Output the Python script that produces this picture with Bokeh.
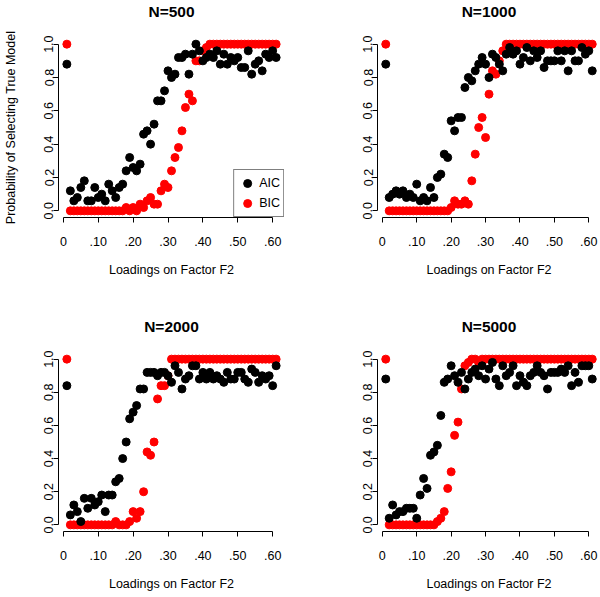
from bokeh.plotting import figure
from bokeh.models import Range1d, FixedTicker, Legend, LegendItem, Title
from bokeh.layouts import column, row
from bokeh.embed import file_html
from bokeh.resources import INLINE

# ---------------- data ----------------
loadings = [0.01, 0.02, 0.03, 0.04, 0.05, 0.06, 0.07, 0.08, 0.09, 0.10,
            0.11, 0.12, 0.13, 0.14, 0.15, 0.16, 0.17, 0.18, 0.19, 0.20,
            0.21, 0.22, 0.23, 0.24, 0.25, 0.26, 0.27, 0.28, 0.29, 0.30,
            0.31, 0.32, 0.33, 0.34, 0.35, 0.36, 0.37, 0.38, 0.39, 0.40,
            0.41, 0.42, 0.43, 0.44, 0.45, 0.46, 0.47, 0.48, 0.49, 0.50,
            0.51, 0.52, 0.53, 0.54, 0.55, 0.56, 0.57, 0.58, 0.59, 0.60,
            0.61]

x_ticks = [0, 0.1, 0.2, 0.3, 0.4, 0.5, 0.6]
x_tick_labels = ["0", ".10", ".20", ".30", ".40", ".50", ".60"]
y_ticks = [0, 0.2, 0.4, 0.6, 0.8, 1.0]
y_tick_labels = ["0.0", "0.2", "0.4", "0.6", "0.8", "1.0"]

titles = ["N=500", "N=1000", "N=2000", "N=5000"]
series_names = ["AIC", "BIC"]
x_label = "Loadings on Factor F2"
y_label = "Probability of Selecting True Model"

aic_500 = [0.88, 0.12, 0.06, 0.08, 0.14, 0.18, 0.06, 0.06, 0.14, 0.08,
           0.10, 0.06, 0.16, 0.12, 0.08, 0.14, 0.16, 0.24, 0.32, 0.26,
           0.24, 0.28, 0.46, 0.48, 0.40, 0.52, 0.66, 0.66, 0.72, 0.84,
           0.80, 0.82, 0.92, 0.92, 0.94, 0.82, 0.94, 1.00, 0.96, 0.90,
           0.92, 0.94, 0.92, 0.96, 0.88, 0.94, 0.88, 0.92, 0.90, 0.92,
           0.86, 0.86, 0.96, 0.82, 0.88, 0.90, 0.84, 0.94, 0.92, 0.96,
           0.92]
bic_500 = [1.00, 0.00, 0.00, 0.00, 0.00, 0.00, 0.00, 0.00, 0.00, 0.00,
           0.00, 0.00, 0.00, 0.00, 0.00, 0.00, 0.00, 0.02, 0.00, 0.02,
           0.00, 0.04, 0.02, 0.06, 0.08, 0.04, 0.04, 0.12, 0.16, 0.14,
           0.24, 0.32, 0.38, 0.48, 0.62, 0.70, 0.66, 0.90, 0.90, 0.96,
           0.98, 1.00, 1.00, 1.00, 1.00, 1.00, 1.00, 1.00, 1.00, 1.00,
           1.00, 1.00, 1.00, 1.00, 1.00, 1.00, 1.00, 1.00, 1.00, 1.00,
           1.00]

aic_1000 = [0.88, 0.08, 0.10, 0.12, 0.10, 0.12, 0.08, 0.10, 0.08, 0.16,
            0.06, 0.08, 0.06, 0.14, 0.08, 0.20, 0.22, 0.34, 0.32, 0.54,
            0.48, 0.56, 0.56, 0.74, 0.80, 0.78, 0.84, 0.88, 0.92, 0.88,
            0.80, 0.94, 0.92, 0.88, 0.84, 0.94, 0.98, 0.94, 0.96, 0.88,
            0.92, 0.98, 0.90, 0.96, 0.92, 0.96, 0.86, 0.90, 0.90, 0.90,
            0.96, 0.90, 0.96, 0.84, 0.96, 0.90, 0.90, 0.98, 0.94, 0.96,
            0.84]
bic_1000 = [1.00, 0.00, 0.00, 0.00, 0.00, 0.00, 0.00, 0.00, 0.00, 0.00,
            0.00, 0.00, 0.00, 0.00, 0.00, 0.00, 0.00, 0.00, 0.00, 0.02,
            0.06, 0.04, 0.04, 0.06, 0.04, 0.18, 0.34, 0.50, 0.56, 0.44,
            0.70, 0.84, 0.82, 0.90, 0.96, 1.00, 1.00, 1.00, 1.00, 1.00,
            1.00, 1.00, 1.00, 1.00, 1.00, 1.00, 1.00, 1.00, 1.00, 1.00,
            1.00, 1.00, 1.00, 1.00, 1.00, 1.00, 1.00, 1.00, 1.00, 1.00,
            1.00]

aic_2000 = [0.84, 0.06, 0.12, 0.08, 0.02, 0.16, 0.10, 0.16, 0.12, 0.14,
            0.18, 0.08, 0.18, 0.18, 0.26, 0.28, 0.40, 0.50, 0.64, 0.68,
            0.72, 0.82, 0.82, 0.92, 0.92, 0.92, 0.90, 0.92, 0.92, 0.90,
            0.86, 0.96, 0.92, 0.82, 0.88, 0.90, 0.96, 0.96, 0.88, 0.92,
            0.88, 0.92, 0.88, 0.90, 0.88, 0.86, 0.92, 0.88, 0.88, 0.92,
            0.92, 0.88, 0.86, 0.94, 0.92, 0.86, 0.90, 0.88, 0.90, 0.84,
            0.96]
bic_2000 = [1.00, 0.00, 0.00, 0.00, 0.00, 0.00, 0.00, 0.00, 0.00, 0.00,
            0.00, 0.00, 0.00, 0.00, 0.02, 0.00, 0.00, 0.00, 0.02, 0.08,
            0.04, 0.08, 0.20, 0.44, 0.42, 0.50, 0.76, 0.84, 0.84, 0.90,
            1.00, 1.00, 1.00, 1.00, 1.00, 1.00, 1.00, 1.00, 1.00, 1.00,
            1.00, 1.00, 1.00, 1.00, 1.00, 1.00, 1.00, 1.00, 1.00, 1.00,
            1.00, 1.00, 1.00, 1.00, 1.00, 1.00, 1.00, 1.00, 1.00, 1.00,
            1.00]

aic_5000 = [0.88, 0.04, 0.12, 0.06, 0.08, 0.08, 0.10, 0.10, 0.10, 0.04,
            0.18, 0.28, 0.22, 0.42, 0.44, 0.48, 0.66, 0.86, 0.88, 0.96,
            0.90, 0.86, 0.92, 0.82, 0.88, 0.92, 0.94, 0.90, 0.96, 0.88,
            0.94, 0.98, 0.88, 0.84, 0.96, 0.90, 0.92, 0.96, 0.84, 0.90,
            0.86, 0.84, 0.90, 0.92, 0.96, 0.92, 0.90, 0.82, 0.92, 0.92,
            0.92, 0.94, 0.92, 0.96, 0.84, 0.92, 0.86, 0.96, 0.96, 0.96,
            0.88]
bic_5000 = [1.00, 0.00, 0.00, 0.00, 0.00, 0.00, 0.00, 0.00, 0.00, 0.00,
            0.00, 0.00, 0.00, 0.00, 0.00, 0.02, 0.04, 0.08, 0.22, 0.32,
            0.54, 0.62, 0.82, 0.96, 0.98, 1.00, 1.00, 0.98, 1.00, 1.00,
            1.00, 1.00, 1.00, 1.00, 1.00, 1.00, 1.00, 1.00, 1.00, 1.00,
            1.00, 1.00, 1.00, 1.00, 1.00, 1.00, 1.00, 1.00, 1.00, 1.00,
            1.00, 1.00, 1.00, 1.00, 1.00, 1.00, 1.00, 1.00, 1.00, 1.00,
            1.00]

aic_all = [aic_500, aic_1000, aic_2000, aic_5000]
bic_all = [bic_500, bic_1000, bic_2000, bic_5000]

# ---------------- styling ----------------
FONT = "Liberation Sans"
AIC_COLOR = "#000000"
BIC_COLOR = "#ff0000"
TXT = "12.5px"

# R-style axis ranges: data range extended by 4% on each side
xmin, xmax = min(loadings), max(loadings)
xpad = 0.04 * (xmax - xmin)
ymin, ymax = 0.0, 1.0
ypad = 0.04 * (ymax - ymin)


def style_axis(ax, ticks, labels, label_text, standoff):
    ax.ticker = FixedTicker(ticks=ticks)
    ax.major_label_overrides = {t: l for t, l in zip(ticks, labels)}
    ax.bounds = (ticks[0], ticks[-1])
    ax.axis_line_color = "#000000"
    ax.axis_line_width = 1
    ax.major_tick_line_color = "#000000"
    ax.major_tick_in = 0
    ax.major_tick_out = 5
    ax.minor_tick_line_color = None
    ax.major_label_text_font = FONT
    ax.major_label_text_font_size = TXT
    ax.major_label_text_color = "#000000"
    ax.major_label_standoff = standoff
    ax.axis_label = label_text
    ax.axis_label_text_font = FONT
    ax.axis_label_text_font_size = TXT
    ax.axis_label_text_font_style = "normal"
    ax.axis_label_text_color = "#000000"


def make_panel(idx, width, height, bl, br, bt, bb):
    p = figure(width=width, height=height, output_backend="svg",
               toolbar_location=None,
               x_range=Range1d(xmin - xpad, xmax + xpad),
               y_range=Range1d(ymin - ypad, ymax + ypad),
               min_border_left=bl, min_border_right=br,
               min_border_top=bt, min_border_bottom=bb)
    p.outline_line_color = None
    p.xgrid.visible = False
    p.ygrid.visible = False
    p.background_fill_color = "#ffffff"
    p.border_fill_color = "#ffffff"

    style_axis(p.xaxis[0], x_ticks, x_tick_labels, x_label, 14)
    p.xaxis[0].axis_label_standoff = 14
    style_axis(p.yaxis[0], y_ticks, y_tick_labels,
               y_label if idx == 0 else "", 0)
    p.yaxis[0].major_label_orientation = "vertical"
    p.yaxis[0].axis_label_standoff = 24

    r_bic = p.scatter(loadings, bic_all[idx], size=8, marker="circle",
                      fill_color=BIC_COLOR, line_color=BIC_COLOR)
    r_aic = p.scatter(loadings, aic_all[idx], size=8, marker="circle",
                      fill_color=AIC_COLOR, line_color=AIC_COLOR)

    # blank (white) spacer next to the frame, bold main title above it
    spacer = Title(text=".", text_color="#ffffff", text_font=FONT,
                   text_font_size="10px", standoff=8)
    p.add_layout(spacer, "above")
    main = Title(text=titles[idx], align="center", text_font=FONT,
                 text_font_size="15.5px", text_font_style="bold",
                 text_color="#000000", standoff=0)
    p.add_layout(main, "above")

    if idx == 0:
        legend = Legend(items=[LegendItem(label=series_names[0], renderers=[r_aic]),
                               LegendItem(label=series_names[1], renderers=[r_bic])],
                        location="bottom_right")
        legend.margin = 0
        legend.padding = 3
        legend.spacing = 0
        legend.glyph_width = 20
        legend.glyph_height = 20
        legend.label_height = 16
        legend.label_standoff = 2
        legend.label_text_font = FONT
        legend.label_text_font_size = TXT
        legend.label_text_color = "#000000"
        legend.border_line_color = "#000000"
        legend.border_line_width = 1
        legend.background_fill_alpha = 1.0
        p.add_layout(legend, "center")
    return p


p1 = make_panel(0, 300, 297, 58, 16, 37, 80)
p2 = make_panel(1, 300, 297, 77, 0, 37, 80)
p3 = make_panel(2, 300, 299, 58, 16, 55, 65)
p4 = make_panel(3, 300, 299, 77, 0, 55, 65)

layout = column(row(p1, p2, spacing=0), row(p3, p4, spacing=0), spacing=0)

open("out.html", "w").write(file_html(layout, INLINE))
